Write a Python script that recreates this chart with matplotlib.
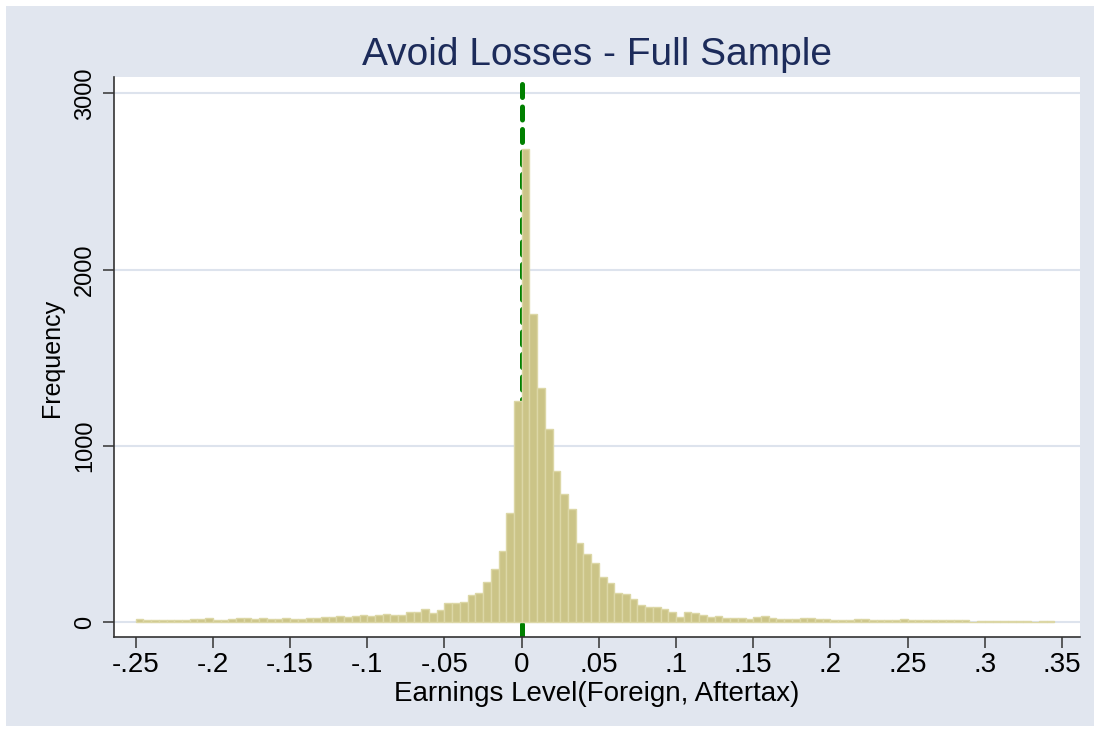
import numpy as np
import matplotlib
matplotlib.use("Agg")
import matplotlib.pyplot as plt
from matplotlib.patches import Rectangle

plt.rcParams['font.family'] = ['Liberation Sans', 'DejaVu Sans']

# ---- data (histogram counts, bins of width 0.005 starting at -0.25) ----
bin_start = -0.25
bin_width = 0.005
counts = [
    17, 10, 10, 9, 12, 13, 12, 15, 17, 22,
    14, 14, 19, 20, 20, 19, 21, 17, 19, 21,
    17, 17, 23, 23, 26, 26, 34, 26, 32, 42,
    32, 42, 47, 40, 42, 59, 59, 72, 53, 68,
    106, 110, 112, 153, 166, 225, 300, 405, 616, 1255,
    2685, 1745, 1325, 1097, 855, 727, 642, 449, 387, 334,
    257, 219, 166, 159, 129, 96, 87, 83, 72, 55,
    30, 59, 51, 42, 30, 34, 20, 25, 21, 17,
    27, 32, 21, 15, 15, 17, 23, 21, 17, 15,
    13, 13, 13, 17, 17, 14, 11, 11, 11, 17,
    12, 10, 10, 10, 10, 10, 10, 9, 0, 8,
    8, 8, 8, 8, 8, 8, 0, 8, 8,
]
xticks = [-0.25, -0.2, -0.15, -0.1, -0.05, 0, 0.05, 0.1, 0.15, 0.2, 0.25, 0.3, 0.35]
xticklabels = ["-.25", "-.2", "-.15", "-.1", "-.05", "0", ".05", ".1", ".15", ".2", ".25", ".3", ".35"]
yticks = [0, 1000, 2000, 3000]
yticklabels = ["0", "1000", "2000", "3000"]
title = "Avoid Losses - Full Sample"
xlabel = "Earnings Level(Foreign, Aftertax)"
ylabel = "Frequency"
ref_line = 0

W, H = 1100, 732
fig = plt.figure(figsize=(W / 100, H / 100), dpi=100, facecolor='white')

# graph region background
m = 6
fig.patches.append(Rectangle((m / W, m / H), (W - 2 * m) / W, (H - 2 * m) / H,
                             transform=fig.transFigure, facecolor='#e1e6ef',
                             edgecolor='none', zorder=-10))

left, right, top, bottom = 114, 1080, 77, 637
ax = fig.add_axes([left / W, (H - bottom) / H, (right - left) / W, (bottom - top) / H])
ax.set_zorder(5)
ax.set_facecolor('white')

edges = bin_start + bin_width * np.arange(len(counts))
ax.bar(edges, counts, width=bin_width, align='edge', color='#cbc487',
       edgecolor='#dcd7a6', linewidth=1.0, zorder=3)

ax.axvline(ref_line, color='#008000', linewidth=3.6,
           linestyle=(0, (2.6, 1.9)), dash_capstyle='round', zorder=2)

ax.set_xlim(-0.26406, 0.36166)
ax.set_ylim(-85.1, 3092.5)

for yv in yticks:
    ax.axhline(yv, color='#dde3ed', linewidth=1.5, zorder=1)

ax.set_xticks(xticks)
ax.set_xticklabels(xticklabels, fontsize=20)
ax.set_yticks(yticks)
ax.set_yticklabels(yticklabels, fontsize=17, rotation=90, va='center')
ax.tick_params(axis='both', direction='out', length=8, width=1.1, color='#333333',
               labelcolor='black')
ax.tick_params(axis='x', pad=3)
ax.tick_params(axis='y', pad=5)

for s in ['top', 'right']:
    ax.spines[s].set_visible(False)
for s in ['left', 'bottom']:
    ax.spines[s].set_color('#333333')
    ax.spines[s].set_linewidth(1.2)

fig.text(597 / W, 1 - 65 / H, title, ha='center', va='baseline', fontsize=28,
         color='#1c2b5a')
fig.text(597 / W, 1 - 701 / H, xlabel, ha='center', va='baseline', fontsize=20,
         color='black')
fig.text(52 / W, 1 - 358 / H, ylabel, ha='center', va='center', fontsize=18,
         rotation=90, color='black')

fig.savefig('out.png', dpi=100, facecolor='white')
